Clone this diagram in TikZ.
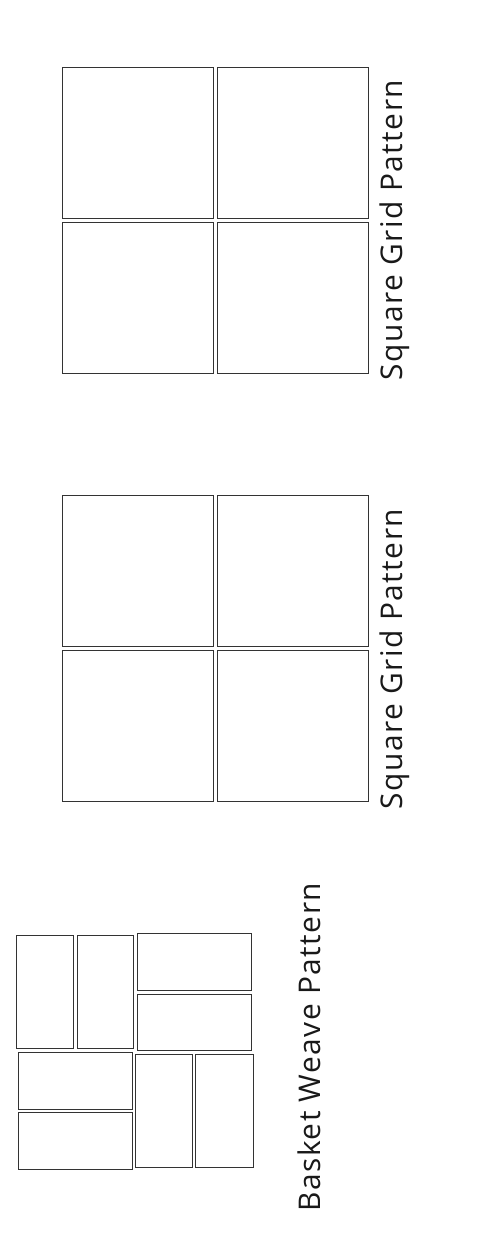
\documentclass[tikz,border=0pt]{standalone}
\usepackage{fontspec}
\setmainfont{Open Sans}
\usetikzlibrary{positioning}
\tikzset{
  tile/.style={draw=black!80, line width=0.5pt},
  lbl/.style={rotate=90, inner sep=0pt, text=black!90,
    font=\fontsize{17}{19}\selectfont\addfontfeature{LetterSpace=5}}
}

\begin{document}
\begin{tikzpicture}[x=0.02cm, y=-0.02cm]
  \useasboundingbox (0,0) rectangle (494,1239);

  % --- Square grids (2x2) ---
  \def\cell{151}
  \def\gap{4.5}
  \foreach \ytop in {67, 495} {
    \foreach \i in {0,1} {
      \foreach \j in {0,1} {
        \draw[tile] ({62+\i*(\cell+\gap)}, {\ytop+\j*(\cell+\gap)}) rectangle ++(\cell,\cell);
      }
    }
  }
  \node[lbl] (gridlblA) at (395,230) {Square Grid Pattern};
  \node[lbl] (gridlblB) at (395,659) {Square Grid Pattern};

  % --- Basket weave ---
  % top half: two upright, two lying
  \draw[tile] (16,935) rectangle (73,1048);
  \draw[tile] (77,935) rectangle (133,1048);
  \draw[tile] (137,933) rectangle (251,990);
  \draw[tile] (137,994) rectangle (251,1050);
  % bottom half: two lying, two upright
  \draw[tile] (18,1052) rectangle (132,1109);
  \draw[tile] (18,1112) rectangle (132,1169);
  \draw[tile] (135,1054) rectangle (192,1167);
  \draw[tile] (195,1054) rectangle (253,1167);
  \node[lbl] (basketlbl) at (309,1047) {Basket Weave Pattern};
\end{tikzpicture}
\end{document}
